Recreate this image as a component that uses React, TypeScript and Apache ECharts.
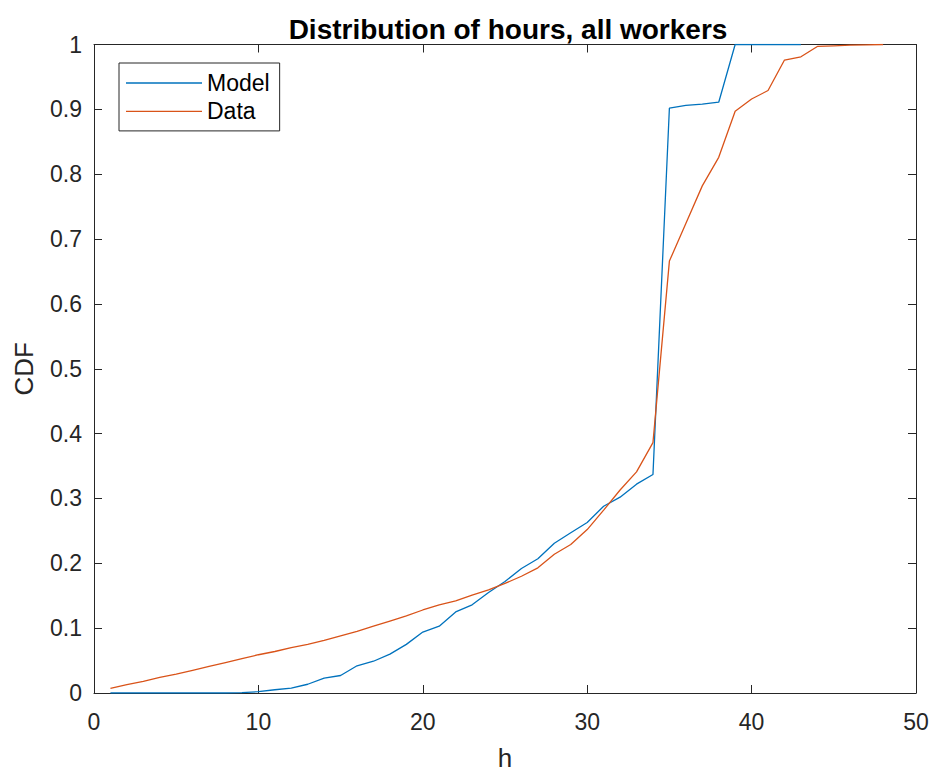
import React, { useEffect, useRef } from "react";
import * as echarts from "echarts";

const modelHours = [1,2,3,4,5,6,7,8,9,10,11,12,13,14,15,16,17,18,19,20,21,22,23,24,25,26,27,28,29,30,31,32,33,34,35,36,37,38,39,40,41,42,43];
const modelCdf = [0,0,0,0,0,0,0,0,0.0005,0.002,0.005,0.0075,0.0135,0.023,0.027,0.042,0.049,0.06,0.075,0.094,0.103,0.125,0.136,0.155,0.172,0.192,0.207,0.231,0.247,0.263,0.288,0.302,0.322,0.337,0.902,0.906,0.908,0.911,1,1,1,1,1];

const dataHours = [1,2,3,4,5,6,7,8,9,10,11,12,13,14,15,16,17,18,19,20,21,22,23,24,25,26,27,28,29,30,31,32,33,34,35,36,37,38,39,40,41,42,43,44,45,46,47,48];
const dataCdf = [0.007,0.013,0.018,0.024,0.029,0.035,0.041,0.047,0.053,0.059,0.064,0.07,0.075,0.081,0.088,0.095,0.103,0.111,0.119,0.128,0.136,0.142,0.151,0.159,0.169,0.18,0.193,0.214,0.229,0.252,0.282,0.313,0.341,0.386,0.666,0.724,0.782,0.826,0.897,0.916,0.929,0.976,0.981,0.997,0.998,0.999,0.9995,1];

const seriesNames = ["Model", "Data"];
const colors = ["#0072BD", "#D95319"];
const titleText = "Distribution of hours, all workers";
const xName = "h";
const yName = "CDF";

const FONT = "'Liberation Sans', Arial, Helvetica, sans-serif";
const AX = "#262626";

export default function App() {
  const ref = useRef<HTMLDivElement>(null);
  useEffect(() => {
    document.documentElement.style.margin = "0";
    document.documentElement.style.overflow = "hidden";
    document.body.style.margin = "0";
    document.body.style.overflow = "hidden";
    if (!ref.current) return;
    const chart = echarts.init(ref.current, null, { renderer: "svg" });
    const tick = { show: true, inside: true, length: 8, lineStyle: { color: AX, width: 1 } };
    const line = { show: true, onZero: false, lineStyle: { color: AX, width: 1 } };
    chart.setOption({
      animation: false,
      backgroundColor: "#ffffff",
      title: {
        text: titleText,
        left: 503,
        textAlign: "center",
        top: 10,
        textStyle: { fontFamily: FONT, fontSize: 28, fontWeight: "bold", color: "#000" },
      },
      legend: {
        left: 119,
        top: 63,
        orient: "vertical",
        data: seriesNames,
        icon: "rect",
        itemWidth: 76,
        itemHeight: 1.4,
        itemGap: 5.4,
        padding: [8.5, 10, 8, 7],
        borderColor: AX,
        borderWidth: 1,
        backgroundColor: "#fff",
        textStyle: { fontFamily: FONT, fontSize: 23, color: "#000", lineHeight: 23, padding: [0, 0, 0, 0] },
      },
      grid: { left: 94, top: 44.5, width: 822, height: 652 },
      xAxis: [
        {
          type: "value",
          min: 0,
          max: 50,
          interval: 10,
          position: "bottom",
          name: xName,
          nameLocation: "middle",
          nameGap: 52,
          nameTextStyle: { fontFamily: FONT, fontSize: 26, color: AX },
          axisLine: line,
          axisTick: tick,
          axisLabel: { fontFamily: FONT, fontSize: 23, color: AX, margin: 17 },
          splitLine: { show: false },
        },
        {
          type: "value",
          min: 0,
          max: 50,
          interval: 10,
          position: "top",
          axisLine: line,
          axisTick: tick,
          axisLabel: { show: false },
          splitLine: { show: false },
        },
      ],
      yAxis: [
        {
          type: "value",
          min: 0,
          max: 1,
          interval: 0.1,
          position: "left",
          name: yName,
          nameLocation: "middle",
          nameGap: 57,
          nameRotate: 90,
          nameTextStyle: { fontFamily: FONT, fontSize: 26, color: AX },
          axisLine: line,
          axisTick: tick,
          axisLabel: { fontFamily: FONT, fontSize: 23, color: AX, margin: 12 },
          splitLine: { show: false },
        },
        {
          type: "value",
          min: 0,
          max: 1,
          interval: 0.1,
          position: "right",
          axisLine: line,
          axisTick: tick,
          axisLabel: { show: false },
          splitLine: { show: false },
        },
      ],
      series: [
        {
          name: seriesNames[0],
          type: "line",
          data: modelHours.map((h, i) => [h, modelCdf[i]]),
          showSymbol: false,
          symbol: "none",
          lineStyle: { color: colors[0], width: 1.3 },
          itemStyle: { color: colors[0] },
          z: 3,
        },
        {
          name: seriesNames[1],
          type: "line",
          data: dataHours.map((h, i) => [h, dataCdf[i]]),
          showSymbol: false,
          symbol: "none",
          lineStyle: { color: colors[1], width: 1.3 },
          itemStyle: { color: colors[1] },
          z: 3,
        },
      ],
    });
    return () => chart.dispose();
  }, []);
  return <div ref={ref} style={{ width: 937, height: 776, background: "#fff" }} />;
}
